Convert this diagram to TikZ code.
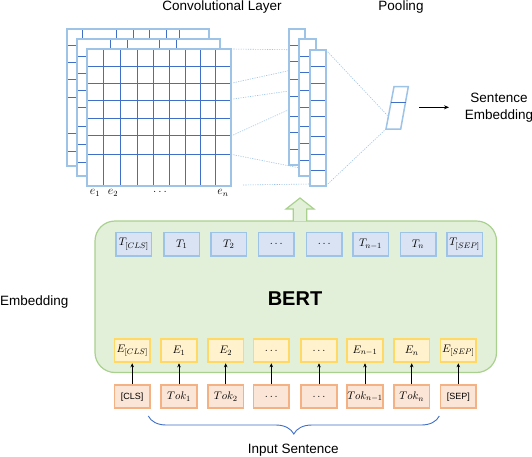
\documentclass[tikz,border=0pt]{standalone}
\usepackage{fontspec}
\setmainfont{Liberation Sans}
\usetikzlibrary{decorations.pathreplacing,arrows.meta}
\definecolor{lblue}{HTML}{9DC3E6}
\definecolor{dblue}{HTML}{3F6FC6}
\definecolor{gfill}{HTML}{E2F0D9}
\definecolor{gdraw}{HTML}{A9D18E}
\definecolor{tfill}{HTML}{DAE3F3}
\definecolor{efill}{HTML}{FFF2CC}
\definecolor{edraw}{HTML}{FFD966}
\definecolor{kfill}{HTML}{FBE5D6}
\definecolor{kdraw}{HTML}{F4B183}
\begin{document}
\begin{tikzpicture}[x=1pt,y=-1pt,
  lbl/.style={font=\fontsize{13.5}{16}\selectfont, inner sep=0pt},
  elbl/.style={font=\fontsize{11.5}{13}\selectfont, inner sep=0pt},
  border/.style={draw=lblue, line width=2pt},
  gridln/.style={draw=dblue, line width=1pt},
  dotln/.style={draw=lblue, line width=0.6pt, dash pattern=on 1.2pt off 1.2pt},
  tbox/.style={draw=lblue, fill=tfill, line width=1.5pt, minimum width=35.5pt, minimum height=23.3pt, inner sep=0pt, font=\fontsize{11}{13}\selectfont},
  ebox/.style={tbox, draw=edraw, fill=efill, line width=1.8pt},
  kbox/.style={tbox, draw=kdraw, fill=kfill, line width=1.8pt},
  tokarrow/.style={-{Stealth[length=4pt,width=3.5pt]}, line width=0.8pt}
]
\useasboundingbox (0,0) rectangle (532,456);

% titles
\node[lbl] (convt) at (222,7) {Convolutional Layer};
\node[lbl] (poolt) at (401,7) {Pooling};

% ---- convolutional layer: back
\fill[white] (67,29) rectangle (209,166);
\foreach \x in {82.3,116.3,133.3,149.3,166.7,179.3} \draw[gridln] (\x,29) -- (\x,166);
\foreach \y in {45,62.3,79.3,97.3,133.3,151.7} \draw[gridln] (67,\y) -- (209,\y);
\draw[border] (67,29) rectangle (209,166);
% middle
\fill[white] (77,39) rectangle (220,176);
\foreach \x in {110,127.3,159.3,176} \draw[gridln] (\x,39) -- (\x,176);
\foreach \y in {56,73.3,90,107.3,126,144,162.7} \draw[gridln] (77,\y) -- (220,\y);
\draw[border] (77,39) rectangle (220,176);
% front
\fill[white] (87,49) rectangle (231,186);
\foreach \x in {103.3,120.3,137.7,153.7,169.3,185.3,200.3,215.7} \draw[gridln] (\x,49) -- (\x,186);
\foreach \y in {66,83.3,100.7,118.3,135.7,154.3} \draw[gridln] (87,\y) -- (231,\y);
\draw[border] (87,49) rectangle (231,186);

% labels under conv
\node[elbl] (e1) at (95,193) {$e_1$};
\node[elbl] (e2) at (113,193) {$e_2$};
\node[elbl] (ed) at (160,192) {$\dots$};
\node[elbl] (en) at (223,193) {$e_n$};

% dotted lines conv -> pooling
\draw[dotln] (231,49) -- (310,50);
\draw[dotln] (231,83.3) -- (310,66);
\draw[dotln] (231,99.3) -- (310,88);
\draw[dotln] (231,136) -- (310,100);
\draw[dotln] (231,154.3) -- (310,170);
\draw[dotln] (243,185) -- (310,184);

% ---- pooling layers
\fill[white] (289.3,29) rectangle (305,165);
\foreach \y in {45,61.7,79.3,96.7,116,132.7,149.3} \draw[gridln] (289.3,\y) -- (305,\y);
\draw[border] (289.3,29) rectangle (305,165);
\fill[white] (299.3,39) rectangle (315.7,175.7);
\foreach \y in {56,72.3,90,107,126,143,160} \draw[gridln] (299.3,\y) -- (315.7,\y);
\draw[border] (299.3,39) rectangle (315.7,175.7);
\fill[white] (310,50) rectangle (326,185.7);
\foreach \y in {66,83.3,100,116.7,136.7,154.3,170} \draw[gridln] (310,\y) -- (326,\y);
\draw[border] (310,50) rectangle (326,185.7);

% lines to pooled vector
\draw[dotln] (326,50) -- (388,116);
\draw[dotln] (326,185.7) -- (386,129);
\filldraw[fill=white, draw=lblue, line width=1.5pt] (394,86.7) -- (408.3,86.7) -- (400.7,129) -- (386,129) -- cycle;
\draw[gridln] (391.1,102.3) -- (405.5,102.3);

% sentence embedding
\coordinate (arrs) at (419,107.3);
\coordinate (arre) at (449,107.3);
\draw[-{Stealth[length=5pt,width=4pt]}, line width=0.8pt] (arrs) -- (arre);
\node[lbl, align=center] (sent) at (499,108) {Sentence\\[1pt]Embedding};

% ---- BERT
\node[draw=gdraw, fill=gfill, rounded corners=20pt, line width=1.2pt, minimum width=401.5pt, minimum height=151.5pt, inner sep=0pt] (bert) at (295.75,296.75) {};
\node[font=\fontsize{20}{24}\selectfont\bfseries, inner sep=0pt] (bertl) at (295,298.3) {BERT};
\node[lbl, anchor=west] (embl) at (0,301.7) {Embedding};

% green up arrow
\filldraw[fill=gfill, draw=gdraw, line width=1.2pt]
  (293.3,221) -- (293.3,209) -- (286,209) -- (300,198) -- (314,209) -- (306.7,209) -- (306.7,221);

% T row
\foreach \i/\x/\t in {1/133.8/{T_{[CLS]}},2/181.7/{T_1},3/228.8/{T_2},4/276.2/{\ldots},5/324.2/{\ldots},6/370.5/{T_{n-1}},7/418/{T_n},8/464.5/{T_{[SEP]}}}
  \node[tbox] (t\i) at (\x,244.3) {$\t$};

% E and Tok rows
\foreach \i/\x/\t/\k in {1/132.2/{E_{[CLS]}}/{\mbox{\fontsize{9}{11}\selectfont[CLS]}},
                         2/179/{E_1}/{Tok_1},
                         3/225.7/{E_2}/{Tok_2},
                         4/271.3/{\ldots}/{\ldots},
                         5/319/{\ldots}/{\ldots},
                         6/365/{E_{n-1}}/{Tok_{n-1}},
                         7/411.7/{E_n}/{Tok_n},
                         8/458.3/{E_{[SEP]}}/{\mbox{\fontsize{9}{11}\selectfont[SEP]}}} {
  \node[ebox] (e\i) at (\x,350.7) {$\t$};
  \node[kbox] (k\i) at (\x,396.7) {$\k$};
  \draw[tokarrow] (k\i.north) -- (e\i.south);
}

% brace
\coordinate (br) at (439.3,416);
\coordinate (bl) at (148.3,416);
\draw[dblue, line width=0.9pt, decorate, decoration={brace, amplitude=18pt, aspect=0.5}] (br) -- (bl);
\node[lbl] (inp) at (293.3,450) {Input Sentence};
\end{tikzpicture}
\end{document}
